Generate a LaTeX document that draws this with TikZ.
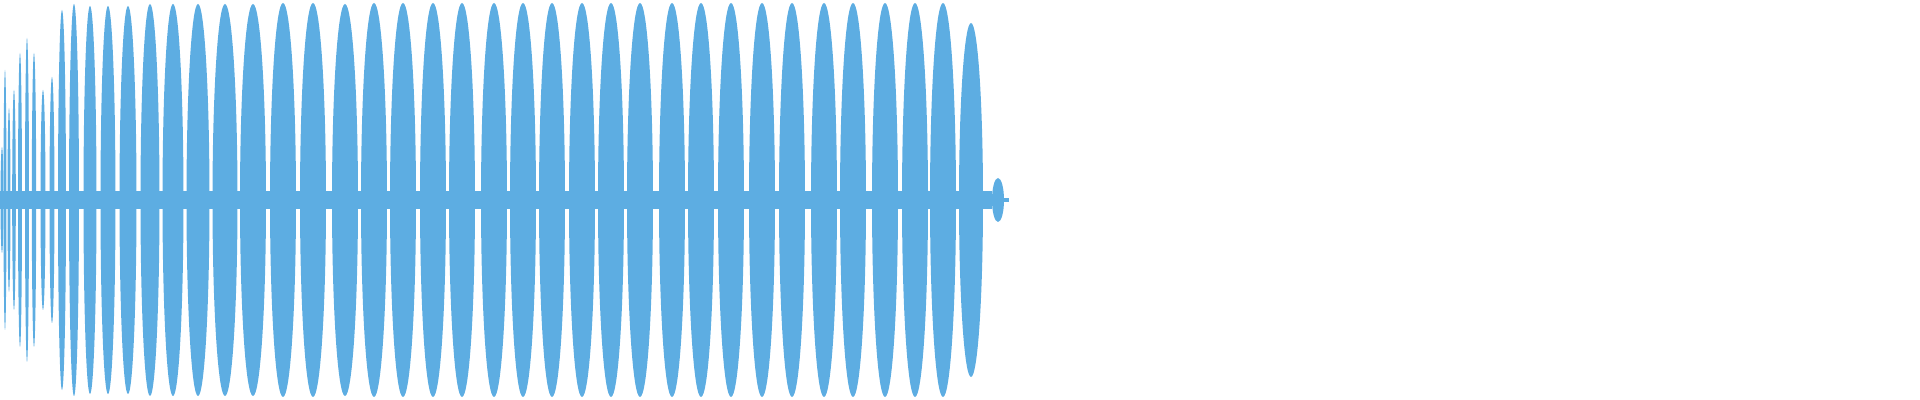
\documentclass[tikz,border=0pt]{standalone}
\definecolor{wave}{RGB}{93,173,226}
\tikzset{lobe/.style={fill=wave}}

\begin{document}
\begin{tikzpicture}[x=0.5pt,y=-0.5pt]
    \useasboundingbox (0,0) rectangle (1920,400);
    % centre band
    \fill [lobe] (0,191) rectangle (992,209);
    \fill [lobe] (990,198) rectangle (1009,202);
    % early spikes
    \foreach \c/\w/\a in {2/1.5/53,5/1.5/130,9/1.5/92,14/1.8/110,20/2/147,27/2/162,34/2.2/147,43/2.5/110,52/2.5/123}
        \fill [lobe] (\c,200) ellipse [x radius=\w, y radius=\a];
    % main lobes
    \foreach \c/\w/\a in {62/4/190,74/5/196,90/6.5/194,108/7.5/194,128/8.5/194,150/9.5/196,173/10.5/196,198/11.5/196,225/12.5/196,253/13/196,283/13/197,313/13/197,
        345/13/196,374/13/197,403/13/197,433/13/197,462/13/197,494/13/197,523/13/197,552/13/197,582/13/197,611/13/197,640/13/197,672/13/197,
        701/13/197,731/13/197,762/13/197,792/13/197,824/13/197,853/13/197,885/13/197,915/13/197,943/13/197,971/12/177,998/6/22}
        \fill [lobe] (\c,200) ellipse [x radius=\w, y radius=\a];
\end{tikzpicture}
\end{document}
